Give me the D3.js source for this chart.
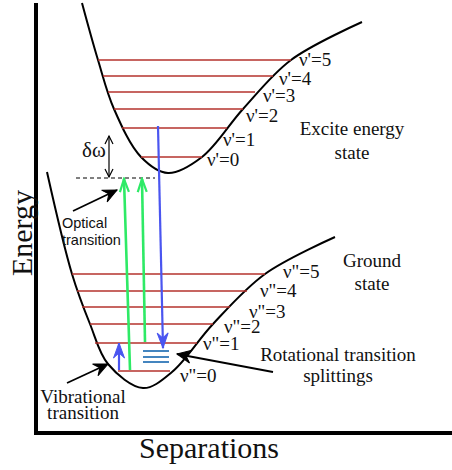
<!DOCTYPE html>
<html lang="en">
<head>
  <meta charset="UTF-8">
  <title>Vibrational energy levels</title>
  <script src="https://d3js.org/d3.v7.min.js"></script>
  <style>
    body { margin: 0; background: #fff; }
    svg { display: block; }
    .serif { font-family: 'Liberation Serif', 'DejaVu Serif', serif; fill: #111; }
    .sans { font-family: 'Liberation Sans', Arial, sans-serif; fill: #111; }
  </style>
</head>
<body>
  <svg width="452" height="470"></svg>
  <script>
    // potential curves (separation, energy) in diagram units
    const excitedCurve = [[46, 430], [62, 373], [78, 324], [105, 276], [132, 260], [166, 276],
      [207, 324], [255, 373], [326, 411]];
    const groundCurve = [[11, 261], [36, 159], [54, 109], [72, 69], [107, 45], [136, 61],
      [177, 109], [229, 159], [299, 196]];

    // vibrational levels
    const excitedEnergy = [276, 305, 324, 341, 357, 373];
    const excitedLeft = [105, 86, 78, 72, 67, 62];
    const excitedRight = [166, 191, 207, 219, 237, 255];
    const groundEnergy = [62, 90, 109, 126, 142, 159];
    const groundLeft = [82, 59, 54, 46, 41, 36];
    const groundRight = [134, 161, 177, 194, 211, 229];

    // level labels, anchored at (separation, energy)
    const excitedLabels = ["ν'=0", "ν'=1", "ν'=2", "ν'=3", "ν'=4", "ν'=5"];
    const excitedLabelPos = [[171, 267], [187, 287], [210, 311], [227, 331], [243, 348], [263, 367]];
    const groundLabels = ['ν"=0', 'ν"=1', 'ν"=2', 'ν"=3', 'ν"=4', 'ν"=5'];
    const groundLabelPos = [[144, 51], [167, 83], [188, 100], [213, 115], [224, 136], [247, 155]];

    // rotational splitting energies
    const rotEnergy = [82, 76, 71];
    const rotSpan = [107, 133];

    // transitions [from, to]
    const greenArrows = [[[94, 63], [88, 254]], [[109, 91], [106, 254]]];
    const blueArrows = [[[122, 307], [127, 85]], [[83, 63], [83, 90]]];
    const pointerArrows = [[[37, 222], [81, 243]], [[31, 50], [72, 69]], [[237, 61], [141, 79]]];
    const deltaOmega = [[73, 297], [73, 256]];
    const virtualLevel = { energy: 255, from: 40, to: 119 };

    const width = 452, height = 470;
    const svg = d3.select("svg");

    const x = d3.scaleLinear().domain([0, 416]).range([36, 452]);
    const y = d3.scaleLinear().domain([0, 430]).range([433, 3]);

    // markers
    const defs = svg.append("defs");
    function marker(id, color, path, filled, sw) {
      defs.append("marker")
        .attr("id", id)
        .attr("markerUnits", "userSpaceOnUse")
        .attr("viewBox", "-20 -10 22 20")
        .attr("refX", 0).attr("refY", 0)
        .attr("markerWidth", 22).attr("markerHeight", 20)
        .attr("orient", "auto-start-reverse")
        .append("path")
        .attr("d", path)
        .attr("fill", filled ? color : "none")
        .attr("stroke", color)
        .attr("stroke-width", sw)
        .attr("stroke-linejoin", "miter");
    }
    marker("head-green", "#2eea66", "M-13,-4.5 L0,0 L-13,4.5", false, 2.2);
    marker("head-blue", "#4a55f0", "M-15,-5.5 L0,0 L-15,5.5 L-10,0 Z", true, 1);
    marker("head-black", "#000", "M-14,-6.5 L0,0 L-14,6.5 L-9,0 Z", true, 1);
    marker("head-thin", "#000", "M-8,-4 L0,0 L-8,4", false, 1.2);

    // axes
    svg.append("path")
      .attr("d", d3.line()([[x(0), y(430)], [x(0), y(0)], [x(416), y(0)]]))
      .attr("fill", "none")
      .attr("stroke", "#000")
      .attr("stroke-width", 4);

    svg.append("text")
      .attr("class", "serif")
      .attr("transform", `translate(${x(0) - 4},${y(200)}) rotate(-90)`)
      .attr("text-anchor", "middle")
      .attr("font-size", 30)
      .text("Energy");

    svg.append("text")
      .attr("class", "serif")
      .attr("x", x(173)).attr("y", 458)
      .attr("text-anchor", "middle")
      .attr("font-size", 30)
      .text("Separations");

    // potential curves
    const curve = d3.line().x(d => x(d[0])).y(d => y(d[1])).curve(d3.curveCatmullRom.alpha(0.5));
    [excitedCurve, groundCurve].forEach(c => {
      svg.append("path")
        .attr("d", curve(c))
        .attr("fill", "none")
        .attr("stroke", "#000")
        .attr("stroke-width", 2);
    });

    // vibrational levels
    function levels(energy, left, right, labels, pos) {
      svg.append("g").selectAll("line")
        .data(energy)
        .join("line")
        .attr("x1", (d, i) => x(left[i]))
        .attr("x2", (d, i) => x(right[i]))
        .attr("y1", d => y(d))
        .attr("y2", d => y(d))
        .attr("stroke", "#b5322c")
        .attr("stroke-width", 1.3);
      svg.append("g").selectAll("text")
        .data(labels)
        .join("text")
        .attr("class", "serif")
        .attr("x", (d, i) => x(pos[i][0]))
        .attr("y", (d, i) => y(pos[i][1]))
        .attr("font-size", 19)
        .text(d => d);
    }
    levels(excitedEnergy, excitedLeft, excitedRight, excitedLabels, excitedLabelPos);
    levels(groundEnergy, groundLeft, groundRight, groundLabels, groundLabelPos);

    // rotational splittings
    svg.append("g").selectAll("line")
      .data(rotEnergy)
      .join("line")
      .attr("x1", x(rotSpan[0]))
      .attr("x2", x(rotSpan[1]))
      .attr("y1", d => y(d))
      .attr("y2", d => y(d))
      .attr("stroke", "#2f78b8")
      .attr("stroke-width", 1.8);

    // virtual level
    svg.append("line")
      .attr("x1", x(virtualLevel.from)).attr("x2", x(virtualLevel.to))
      .attr("y1", y(virtualLevel.energy)).attr("y2", y(virtualLevel.energy))
      .attr("stroke", "#000")
      .attr("stroke-width", 1)
      .attr("stroke-dasharray", "4,3");

    function arrow(pts, color, sw, head, both) {
      const l = svg.append("line")
        .attr("x1", x(pts[0][0])).attr("y1", y(pts[0][1]))
        .attr("x2", x(pts[1][0])).attr("y2", y(pts[1][1]))
        .attr("stroke", color)
        .attr("stroke-width", sw)
        .attr("marker-end", `url(#${head})`);
      if (both) l.attr("marker-start", `url(#${head})`);
    }
    greenArrows.forEach(a => arrow(a, "#2eea66", 2.6, "head-green"));
    blueArrows.forEach(a => arrow(a, "#4a55f0", 2.2, "head-blue"));
    pointerArrows.forEach(a => arrow(a, "#000", 1.8, "head-black"));
    arrow(deltaOmega, "#000", 1.2, "head-thin", true);

    // annotations
    function label(lines, sep, energy, cls, size, anchor, lh) {
      const t = svg.append("text")
        .attr("class", cls)
        .attr("font-size", size)
        .attr("text-anchor", anchor);
      lines.forEach((s, i) => {
        t.append("tspan")
          .attr("x", x(sep))
          .attr("y", y(energy) + i * lh)
          .text(s);
      });
    }
    label(["δω"], 46, 276, "serif", 21, "start", 0);
    label(["Optical", "transition"], 26, 205, "sans", 14.5, "start", 17);
    label(["Excite energy", "state"], 316, 298, "serif", 19, "middle", 24);
    label(["Ground", "state"], 336, 166, "serif", 19, "middle", 23);
    label(["Rotational transition", "splittings"], 302, 72, "serif", 19, "middle", 21);
    label(["Vibrational", "transition"], 47, 30, "serif", 19, "middle", 16);
  </script>
</body>
</html>
